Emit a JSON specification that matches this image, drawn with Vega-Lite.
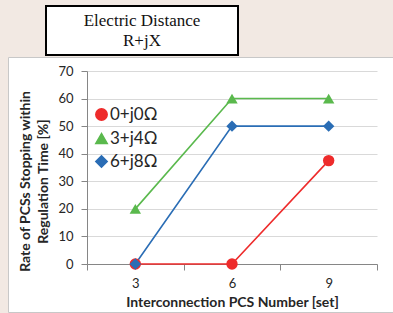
{
  "$schema": "https://vega.github.io/schema/vega-lite/v6.json",
  "background": "#f2e9e3",
  "padding": {"left": 7, "top": 5, "right": 0, "bottom": 2},
  "spacing": 0,
  "config": {"concat": {"spacing": 0}},
  "vconcat": [
    {
      "spacing": 0,
      "hconcat": [
        {
          "width": 37,
          "height": 49,
          "view": {"stroke": null, "fill": null},
          "data": {"values": [{"t": ""}]},
          "mark": {"type": "text"},
          "encoding": {"text": {"field": "t", "type": "nominal"}}
        },
        {
          "width": 192,
          "height": 49,
          "view": {"stroke": "black", "strokeWidth": 2, "fill": "white"},
          "data": {"values": [{"line1": "Electric Distance", "line2": "R+jX"}]},
          "mark": {
            "type": "text",
            "text": ["Electric Distance", "R+jX"],
            "font": "Liberation Serif",
            "fontSize": 17,
            "lineHeight": 20,
            "align": "center",
            "baseline": "middle",
            "dy": -10,
            "color": "#111"
          }
        }
      ]
    },
    {
      "width": 386,
      "height": 255,
      "view": {"stroke": "#c8c8c8", "fill": "white"},
      "data": {
        "values": [
          {"series": "0+j0Ω", "pcs": 3, "rate": 0},
          {"series": "0+j0Ω", "pcs": 6, "rate": 0},
          {"series": "0+j0Ω", "pcs": 9, "rate": 37.5},
          {"series": "3+j4Ω", "pcs": 3, "rate": 20},
          {"series": "3+j4Ω", "pcs": 6, "rate": 60},
          {"series": "3+j4Ω", "pcs": 9, "rate": 60},
          {"series": "6+j8Ω", "pcs": 3, "rate": 0},
          {"series": "6+j8Ω", "pcs": 6, "rate": 50},
          {"series": "6+j8Ω", "pcs": 9, "rate": 50}
        ]
      },
      "encoding": {
        "x": {
          "field": "pcs",
          "type": "ordinal",
          "bandPosition": 0.5,
          "scale": {"type": "band", "range": [79, 369], "paddingInner": 0, "paddingOuter": 0},
          "axis": {
            "offset": -48,
            "labelAngle": 0,
            "tickBand": "extent",
            "grid": false,
            "domainColor": "#868686",
            "tickColor": "#868686",
            "tickSize": 6,
            "labelFont": "Lato",
            "labelFontSize": 13,
            "labelColor": "#262626",
            "labelPadding": 7,
            "title": "Interconnection PCS Number [set]",
            "titleFont": "Lato",
            "titleFontSize": 14,
            "titleFontWeight": "bold",
            "titleColor": "#262626",
            "titlePadding": 5
          }
        },
        "y": {
          "field": "rate",
          "type": "quantitative",
          "scale": {"domain": [0, 70], "range": [207, 14]},
          "axis": {
            "offset": -79,
            "values": [0, 10, 20, 30, 40, 50, 60, 70],
            "domainColor": "#868686",
            "tickColor": "#868686",
            "tickSize": 6,
            "gridColor": "#d9d9d9",
            "labelFont": "Lato",
            "labelFontSize": 13,
            "labelColor": "#262626",
            "labelPadding": 8,
            "title": ["Rate of PCSs Stopping within", "Regulation Time [%]"],
            "titleFont": "Lato",
            "titleFontSize": 14,
            "titleFontWeight": "bold",
            "titleColor": "#262626",
            "titleLineHeight": 18,
            "titlePadding": 7,
            "titleY": 124
          }
        },
        "color": {
          "field": "series",
          "type": "nominal",
          "scale": {"domain": ["0+j0Ω", "3+j4Ω", "6+j8Ω"], "range": ["#ee2b2b", "#5ab94d", "#2a6db5"]},
          "legend": {
            "orient": "none",
            "legendX": 85,
            "legendY": 100,
            "title": null,
            "padding": 0,
            "labelFont": "Lato",
            "labelFontSize": 17,
            "labelColor": "#262626",
            "labelOffset": 0,
            "symbolSize": 130,
            "rowPadding": 5
          }
        }
      },
      "layer": [
        {"mark": {"type": "line", "strokeWidth": 1.6}},
        {
          "mark": {"type": "point", "filled": true, "size": 130, "opacity": 1},
          "encoding": {
            "shape": {
              "field": "series",
              "type": "nominal",
              "scale": {"domain": ["0+j0Ω", "3+j4Ω", "6+j8Ω"], "range": ["circle", "triangle-up", "diamond"]},
              "legend": {
                "orient": "none",
                "legendX": 85,
                "legendY": 100,
                "title": null,
                "padding": 0,
                "labelFont": "Lato",
                "labelFontSize": 17,
                "labelColor": "#262626",
                "labelOffset": 0,
                "symbolSize": 130,
                "rowPadding": 5
              }
            }
          }
        }
      ]
    }
  ]
}
